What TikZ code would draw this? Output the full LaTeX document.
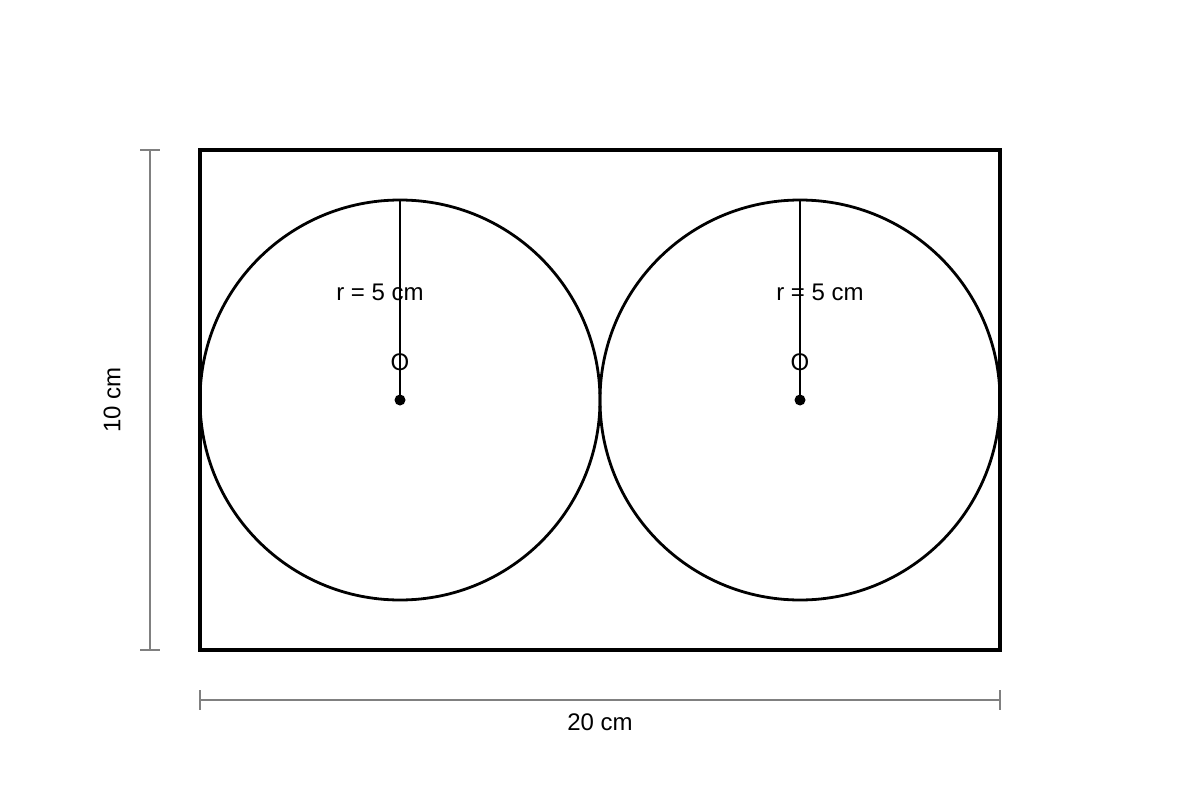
\documentclass[tikz,border=0pt]{standalone}
\usepackage{fontspec}
\setmainfont{Liberation Sans}
\definecolor{dimgray}{HTML}{808080}
\begin{document}
\begin{tikzpicture}[x=1pt,y=-1pt,
  outlinebox/.style={draw=black,line width=3.2pt},
  circleline/.style={draw=black,line width=2.8pt},
  radline/.style={draw=black,line width=2.2pt},
  dimline/.style={draw=dimgray,line width=1.6pt},
  lbl/.style={font=\fontsize{24}{28}\selectfont,inner sep=0pt,text=black},
  centerdot/.style={circle,fill=black,inner sep=0pt,minimum size=11pt}]
\useasboundingbox (0,0) rectangle (1200,800);
\draw[outlinebox] (200,150) rectangle (1000,650);
\draw[circleline] (400,400) circle (200);
\draw[circleline] (800,400) circle (200);
\node[centerdot] (c1) at (400,400) {};
\node[centerdot] (c2) at (800,400) {};
\coordinate (t1) at (400,200);
\coordinate (t2) at (800,200);
\draw[radline] (c1.center) -- (t1);
\draw[radline] (c2.center) -- (t2);
\node[lbl] (r1) at (380,292) {r = 5 cm};
\node[lbl] (r2) at (820,292) {r = 5 cm};
\node[lbl] (o1) at (400,362) {O};
\node[lbl] (o2) at (800,362) {O};
% vertical dimension
\coordinate (v1) at (150,150);
\coordinate (v2) at (150,650);
\draw[dimline] (v1) -- (v2);
\draw[dimline] (140,150) -- (160,150);
\draw[dimline] (140,650) -- (160,650);
\node[lbl,rotate=90] (h) at (112,400) {10 cm};
% horizontal dimension
\coordinate (w1) at (200,700);
\coordinate (w2) at (1000,700);
\draw[dimline] (w1) -- (w2);
\draw[dimline] (200,690) -- (200,710);
\draw[dimline] (1000,690) -- (1000,710);
\node[lbl] (w) at (600,722) {20 cm};
\end{tikzpicture}
\end{document}
